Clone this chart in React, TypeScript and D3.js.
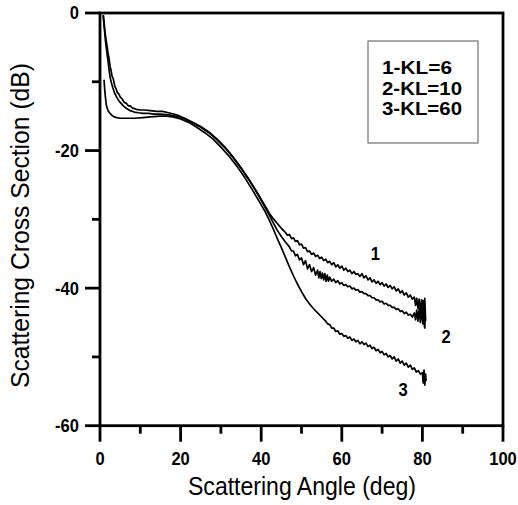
import React, { useRef, useEffect } from "react";
import * as d3 from "d3";

// axis ticks
const xTicks = [0, 20, 40, 60, 80, 100];
const xMinorTicks = [10, 30, 50, 70, 90];
const yTicks = [0, -20, -40, -60];
const yMinorTicks = [-10, -30, -50];

const legendLabels = ["1-KL=6", "2-KL=10", "3-KL=60"];
const legendWidths = [70, 80, 80];
const curveLabels = ["1", "2", "3"];
// where the curve numbers sit, in data units [angle, dB]
const curveLabelPos = [
  [68.3, -34.9],
  [85.9, -47.1],
  [75.2, -54.8],
];

// KL=6
const kl6 = [
  [0.8, -0.3], [1.0, -1.3], [1.2, -2.5], [1.4, -3.5], [1.65, -4.4], [1.8, -5.0],
  [2.0, -5.9], [2.2, -6.4], [2.5, -7.8], [2.7, -8.2], [3.0, -9.2], [3.3, -9.6],
  [3.7, -10.7], [4.0, -11.0], [4.3, -11.6], [4.6, -11.7], [5.0, -12.2], [5.5, -12.5],
  [6.0, -13.0], [6.5, -13.1], [7.0, -13.5], [7.5, -13.5], [8.0, -13.8], [9.0, -14.0],
  [10.0, -14.1], [11.0, -14.1], [12.5, -14.2], [14.0, -14.3], [15.5, -14.3], [17.0, -14.5],
  [19.0, -14.8], [21.0, -15.3], [23.0, -15.9], [25.0, -16.5], [27.0, -17.3], [29.0, -18.3],
  [31.0, -19.5], [33.0, -20.9], [35.0, -22.5], [37.0, -24.2], [39.0, -26.1], [41.0, -28.1],
  [42.0, -29.1], [43.0, -29.9], [44.0, -30.6], [45.0, -31.3], [45.5, -31.6], [46.0, -31.9],
  [46.5, -32.3], [47.0, -32.2], [47.5, -32.8], [48.0, -32.7], [48.5, -33.2], [49.0, -33.1],
  [49.5, -33.7], [50.0, -33.6], [50.5, -34.2], [51.0, -34.1], [51.5, -34.7], [52.0, -34.6],
  [52.5, -35.1], [53.0, -34.9], [53.5, -35.4], [54.0, -35.2], [54.5, -35.7], [55.0, -35.5],
  [55.5, -36.0], [56.0, -35.8], [56.5, -36.3], [57.0, -36.1], [57.5, -36.6], [58.0, -36.3],
  [58.5, -36.9], [59.0, -36.6], [59.5, -37.1], [60.0, -36.8], [60.5, -37.4], [61.0, -37.1],
  [61.5, -37.6], [62.0, -37.4], [62.5, -37.9], [63.0, -37.6], [63.5, -38.0], [64.0, -37.9],
  [64.5, -38.3], [65.0, -37.9], [65.5, -38.5], [66.0, -38.2], [66.5, -38.8], [67.0, -38.5],
  [67.5, -39.1], [68.0, -38.8], [68.5, -39.3], [69.0, -39.0], [69.5, -39.5], [70.0, -39.2],
  [70.5, -39.7], [71.0, -39.4], [71.5, -39.9], [72.0, -39.6], [72.5, -40.1], [73.0, -39.8],
  [73.5, -40.4], [74.0, -40.1], [74.5, -40.7], [75.0, -40.4], [75.5, -41.0], [76.0, -40.7],
  [76.5, -41.3], [77.0, -41.0], [77.5, -41.6], [78.0, -41.3], [78.3, -42.5], [78.6, -41.5],
  [78.9, -43.0], [79.2, -41.6], [79.5, -43.5], [79.8, -41.7], [80.0, -44.0], [80.2, -41.8],
  [80.4, -44.5], [80.6, -41.5], [80.8, -44.8],
];

// KL=10
const kl10 = [
  [0.8, -0.3], [1.0, -1.8], [1.2, -3.0], [1.4, -4.3], [1.65, -5.4], [1.8, -6.2],
  [2.0, -7.0], [2.2, -8.0], [2.5, -9.3], [2.8, -10.1], [3.2, -10.9], [3.6, -11.6],
  [4.1, -12.2], [4.5, -12.6], [5.0, -13.0], [5.8, -13.5], [6.6, -13.9], [7.5, -14.2],
  [8.5, -14.4], [9.5, -14.5], [10.7, -14.6], [12.0, -14.6], [13.5, -14.7], [15.0, -14.7],
  [17.0, -14.8], [19.0, -15.0], [21.0, -15.4], [23.0, -16.0], [25.0, -16.6], [27.0, -17.4],
  [29.0, -18.4], [31.0, -19.6], [33.0, -21.0], [35.0, -22.6], [37.0, -24.3], [39.0, -26.2],
  [41.0, -28.3], [42.0, -29.4], [43.0, -30.5], [44.0, -31.6], [45.0, -32.5], [46.0, -33.3],
  [47.0, -34.0], [47.5, -34.6], [48.0, -34.6], [48.5, -35.3], [49.0, -35.1], [49.5, -35.9],
  [50.0, -35.6], [50.5, -36.6], [51.0, -36.0], [51.5, -37.2], [52.0, -36.6], [52.5, -37.6],
  [53.0, -37.0], [53.5, -38.1], [54.0, -37.4], [54.3, -38.5], [54.6, -37.6], [54.9, -38.6],
  [55.2, -37.8], [55.5, -38.8], [55.8, -37.9], [56.1, -39.0], [56.4, -38.1], [56.7, -39.0],
  [57.0, -38.4], [57.5, -39.0], [58.0, -38.7], [58.5, -39.2], [59.0, -38.9], [59.5, -39.4],
  [60.0, -39.2], [60.5, -39.6], [61.0, -39.5], [61.5, -39.8], [62.0, -39.7], [62.5, -40.1],
  [63.0, -40.0], [63.5, -40.3], [64.0, -40.2], [64.5, -40.6], [65.0, -40.5], [65.5, -40.8],
  [66.0, -40.8], [66.5, -41.1], [67.0, -41.1], [67.5, -41.4], [68.0, -41.4], [68.5, -41.7],
  [69.0, -41.7], [69.5, -42.0], [70.0, -41.9], [70.5, -42.3], [71.0, -42.2], [71.5, -42.5],
  [72.0, -42.5], [72.5, -42.8], [73.0, -42.8], [73.5, -43.1], [74.0, -43.0], [74.5, -43.4],
  [75.0, -43.3], [75.5, -43.7], [76.0, -43.5], [76.5, -43.9], [77.0, -43.8], [77.5, -44.2],
  [78.0, -43.6], [78.3, -44.6], [78.6, -43.2], [78.9, -44.8], [79.2, -43.0], [79.5, -45.0],
  [79.8, -42.8], [80.1, -45.2], [80.3, -42.6], [80.5, -45.5], [80.6, -45.8], [80.7, -43.0],
];

// KL=60
const kl60 = [
  [1.0, -9.7], [1.15, -11.0], [1.3, -12.0], [1.5, -13.0], [1.65, -13.6], [2.0, -14.2],
  [2.5, -14.6], [3.0, -14.9], [3.5, -15.1], [4.2, -15.2], [5.0, -15.3], [6.0, -15.3],
  [7.0, -15.3], [8.5, -15.3], [10.7, -15.2], [12.5, -15.1], [14.9, -15.0], [16.5, -15.0],
  [18.0, -15.1], [20.0, -15.4], [22.0, -15.9], [24.0, -16.6], [26.0, -17.4], [28.0, -18.3],
  [30.0, -19.5], [32.0, -20.8], [34.0, -22.3], [36.0, -24.0], [38.0, -25.9], [40.0, -27.9],
  [41.0, -28.9], [42.0, -30.1], [43.0, -31.4], [44.0, -32.8], [45.0, -34.1], [46.0, -35.5],
  [47.0, -36.9], [48.0, -38.2], [49.0, -39.4], [50.0, -40.5], [51.0, -41.5], [52.0, -42.3],
  [53.0, -43.0], [54.0, -43.6], [55.0, -44.2], [56.0, -44.8], [56.5, -45.2], [57.0, -45.3],
  [57.5, -45.8], [58.0, -45.8], [58.5, -46.3], [59.0, -46.2], [59.5, -46.7], [60.0, -46.6],
  [60.5, -47.0], [61.0, -46.9], [61.5, -47.3], [62.0, -47.1], [62.5, -47.6], [63.0, -47.4],
  [63.5, -47.8], [64.0, -47.6], [64.5, -48.1], [65.0, -47.8], [65.5, -48.2], [66.0, -48.0],
  [66.5, -48.5], [67.0, -48.3], [67.5, -48.8], [68.0, -48.6], [68.5, -49.1], [69.0, -48.9],
  [69.5, -49.4], [70.0, -49.2], [70.5, -49.7], [71.0, -49.5], [71.5, -50.0], [72.0, -49.8],
  [72.5, -50.3], [73.0, -50.0], [73.5, -50.6], [74.0, -50.3], [74.5, -50.9], [75.0, -50.6],
  [75.5, -51.2], [76.0, -50.9], [76.5, -51.5], [77.0, -51.2], [77.5, -51.8], [78.0, -51.6],
  [78.5, -52.2], [79.0, -52.0], [79.5, -52.5], [80.0, -52.3], [80.2, -53.8], [80.4, -51.9],
  [80.6, -54.1], [80.8, -52.5], [80.9, -53.5],
];

const curves = [kl6, kl10, kl60];

const FONT = "'Liberation Sans', Arial, Helvetica, sans-serif";
const SQUEEZE = 0.92; // the scanned figure is slightly narrowed

const App = () => {
  const svgRef = useRef(null);
  const width = 518;
  const height = 505;

  useEffect(() => {
    const svg = d3.select(svgRef.current);
    svg.selectAll("*").remove();

    const left = 100;
    const right = 503;
    const top = 13;
    const bottom = 425.7;

    const x = d3.scaleLinear().domain([0, 100]).range([left, right]);
    const y = d3.scaleLinear().domain([-60, 0]).range([bottom, top]);

    const line = d3
      .line()
      .x((d) => x(d[0]))
      .y((d) => y(d[1]));

    svg
      .append("g")
      .selectAll("path")
      .data(curves)
      .enter()
      .append("path")
      .attr("d", (d) => line(d))
      .attr("fill", "none")
      .attr("stroke", "#000")
      .attr("stroke-width", 1.7)
      .attr("stroke-linejoin", "round");

    // frame
    svg
      .append("rect")
      .attr("x", left)
      .attr("y", top)
      .attr("width", right - left)
      .attr("height", bottom - top)
      .attr("fill", "none")
      .attr("stroke", "#000")
      .attr("stroke-width", 2.8);

    const axes = svg.append("g").attr("stroke", "#000").attr("stroke-width", 2.8);

    axes
      .selectAll(".ymaj")
      .data(yTicks)
      .enter()
      .append("line")
      .attr("x1", left - 15)
      .attr("x2", left)
      .attr("y1", (d) => y(d))
      .attr("y2", (d) => y(d));
    axes
      .selectAll(".ymin")
      .data(yMinorTicks)
      .enter()
      .append("line")
      .attr("x1", left - 8)
      .attr("x2", left)
      .attr("y1", (d) => y(d))
      .attr("y2", (d) => y(d));
    axes
      .selectAll(".xmaj")
      .data(xTicks)
      .enter()
      .append("line")
      .attr("x1", (d) => x(d))
      .attr("x2", (d) => x(d))
      .attr("y1", bottom)
      .attr("y2", bottom + 16);
    axes
      .selectAll(".xmin")
      .data(xMinorTicks)
      .enter()
      .append("line")
      .attr("x1", (d) => x(d))
      .attr("x2", (d) => x(d))
      .attr("y1", bottom)
      .attr("y2", bottom + 8);

    const labels = svg
      .append("g")
      .attr("font-family", FONT)
      .attr("font-weight", "bold")
      .attr("font-size", 18)
      .attr("fill", "#000");

    labels
      .selectAll(".ylab")
      .data(yTicks)
      .enter()
      .append("text")
      .attr("transform", (d) => `translate(79,${y(d)}) scale(${SQUEEZE},1)`)
      .attr("text-anchor", "end")
      .attr("dy", "0.36em")
      .text((d) => d);

    labels
      .selectAll(".xlab")
      .data(xTicks)
      .enter()
      .append("text")
      .attr("transform", (d) => `translate(${x(d)},465) scale(${SQUEEZE},1)`)
      .attr("text-anchor", "middle")
      .text((d) => d);

    labels
      .selectAll(".clab")
      .data(curveLabels)
      .enter()
      .append("text")
      .attr(
        "transform",
        (d, i) =>
          `translate(${x(curveLabelPos[i][0])},${y(curveLabelPos[i][1])}) scale(${SQUEEZE},1)`
      )
      .attr("text-anchor", "middle")
      .attr("dy", "0.36em")
      .text((d) => d);

    // axis titles
    svg
      .append("text")
      .attr("x", 302)
      .attr("y", 495)
      .attr("text-anchor", "middle")
      .attr("font-family", FONT)
      .attr("font-size", 25)
      .attr("textLength", 228)
      .attr("lengthAdjust", "spacingAndGlyphs")
      .text("Scattering Angle (deg)");

    svg
      .append("text")
      .attr("transform", "translate(29,225.5) rotate(-90)")
      .attr("text-anchor", "middle")
      .attr("font-family", FONT)
      .attr("font-size", 26)
      .attr("textLength", 325)
      .attr("lengthAdjust", "spacingAndGlyphs")
      .text("Scattering Cross Section (dB)");

    // legend box
    const legend = svg.append("g");
    legend
      .append("rect")
      .attr("x", 368)
      .attr("y", 41)
      .attr("width", 110)
      .attr("height", 102)
      .attr("fill", "#fff")
      .attr("stroke", "#555")
      .attr("stroke-width", 1);
    legend
      .selectAll("text")
      .data(legendLabels)
      .enter()
      .append("text")
      .attr("x", 382)
      .attr("y", (d, i) => 74 + i * 20.5)
      .attr("font-family", FONT)
      .attr("font-weight", "bold")
      .attr("font-size", 18)
      .attr("textLength", (d, i) => legendWidths[i])
      .attr("lengthAdjust", "spacingAndGlyphs")
      .text((d) => d);
  }, []);

  return (
    <svg
      ref={svgRef}
      width={width}
      height={height}
      style={{ position: "absolute", left: 0, top: 0, background: "#fff" }}
    />
  );
};

export default App;
